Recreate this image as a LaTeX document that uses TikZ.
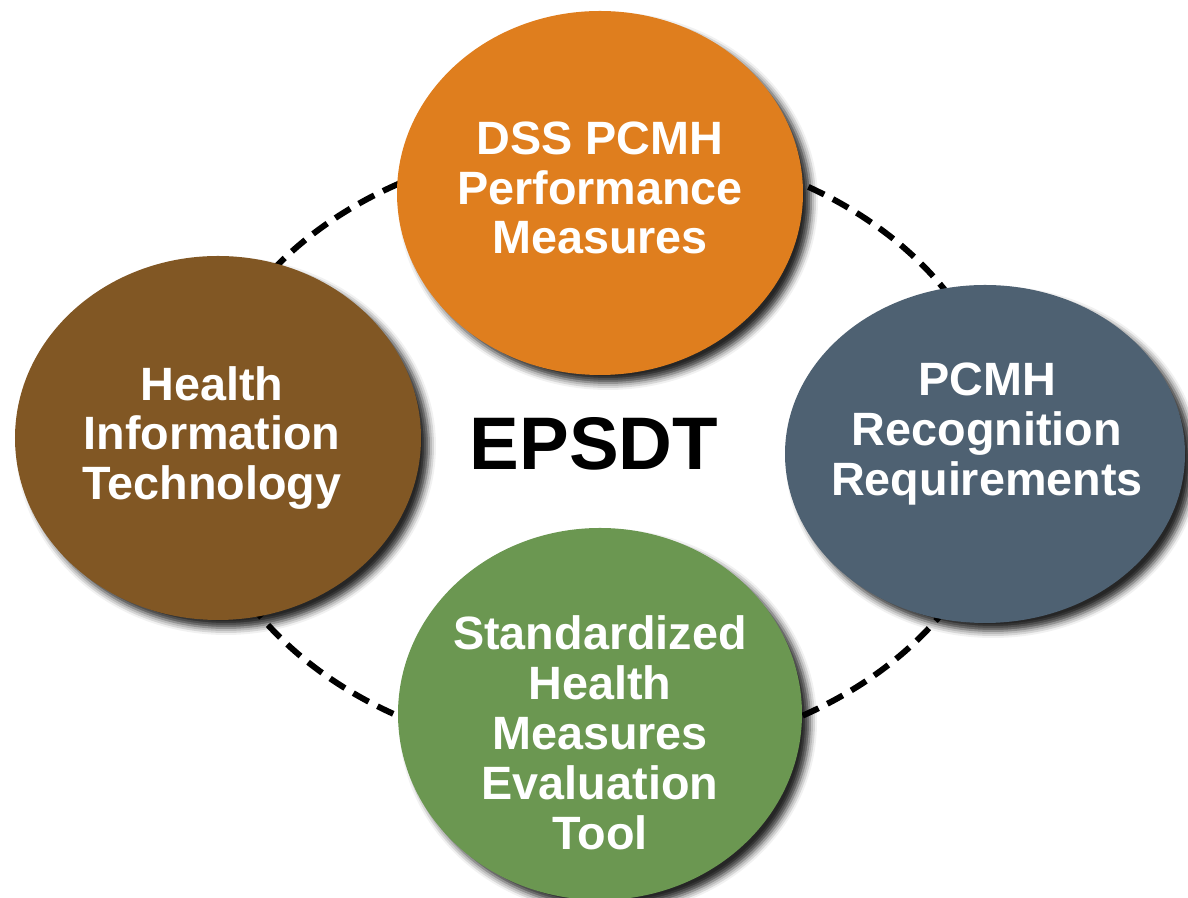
\documentclass[tikz,border=0pt]{standalone}
\usepackage{fontspec}
\setmainfont{Liberation Sans}
\usepackage{tkz-euclide}
\usetikzlibrary{calc,shapes.geometric,shadows.blur}

\definecolor{pcmhorange}{HTML}{DF7E1E}
\definecolor{hitbrown}{HTML}{815724}
\definecolor{recslate}{HTML}{4E6172}
\definecolor{shmgreen}{HTML}{6B9751}

\tikzset{
  bubble/.style={ellipse,inner sep=0pt,draw=none,
    blur shadow={shadow xshift=.08cm,shadow yshift=-.08cm,
      shadow blur radius=.07cm,shadow opacity=85}},
  bubbletext/.style={align=center,text=white,inner sep=0pt,
    font=\bfseries\fontsize{13.3}{14.2}\selectfont},
  ring/.style={dash pattern=on 5pt off 2.8pt,line width=1.7pt}
}

\begin{document}
\begin{tikzpicture}
\useasboundingbox (0,0) rectangle (11.88,8.98);

\tkzDefPoints{6/4.48/C,6/7.05/T,2.18/4.60/L,9.85/4.44/R,6/1.84/B}

% dashed ring behind the four bubbles
\draw[ring] (C) ellipse [x radius=4.04cm,y radius=3.07cm];

\node[bubble,fill=pcmhorange,minimum width=4.06cm,minimum height=3.64cm] (perf) at (T) {};
\node[bubble,fill=hitbrown,minimum width=4.06cm,minimum height=3.64cm] (hit) at (L) {};
\node[bubble,fill=recslate,minimum width=4.00cm,minimum height=3.38cm] (recog) at (R) {};
\node[bubble,fill=shmgreen,minimum width=4.04cm,minimum height=3.72cm] (eval) at (B) {};

\node[bubbletext] (perftxt) at ($(perf.center)+(0,0.05)$) {DSS PCMH\\Performance\\Measures};
\node[bubbletext] (hittxt) at ($(hit.center)+(-0.06,0)$) {Health\\Information\\Technology};
\node[bubbletext] (recogtxt) at ($(recog.center)+(0.02,0.2)$) {PCMH\\Recognition\\Requirements};
\node[bubbletext] (evaltxt) at ($(eval.center)+(0,-0.19)$) {Standardized\\Health\\Measures\\Evaluation\\Tool};

\node[font=\bfseries\fontsize{21.2}{24}\selectfont,inner sep=0pt] (epsdt) at (5.94,4.54) {EPSDT};

\end{tikzpicture}
\end{document}
